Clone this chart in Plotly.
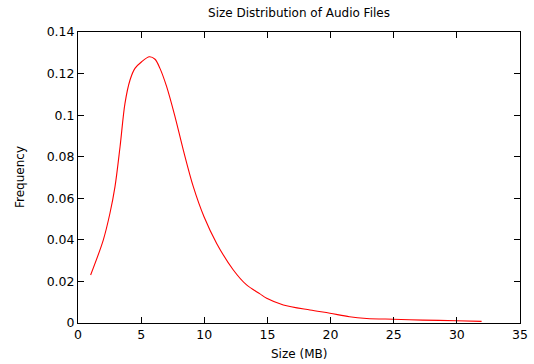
import plotly.graph_objects as go

size_mb = [1.0, 2.0, 2.53, 2.93, 3.33, 3.72, 4.12, 4.51, 5.04, 5.65, 6.10, 6.49, 7.02, 7.68,
           8.34, 9.13, 9.98, 10.98, 12.30, 13.35, 14.41, 14.94, 16.26, 18.37, 19.95, 21.5,
           22.86, 24.96, 27.3, 29.98, 31.96]
frequency = [0.0231, 0.0399, 0.0528, 0.0656, 0.0848, 0.1057, 0.1169, 0.1225, 0.1257, 0.1281,
             0.1269, 0.1225, 0.1137, 0.0993, 0.0832, 0.0656, 0.0511, 0.0383, 0.0255, 0.0183,
             0.0140, 0.0119, 0.0087, 0.00625, 0.0047, 0.0030, 0.0022, 0.0018, 0.0014, 0.0011,
             0.0008]
x_ticks = [0, 5, 10, 15, 20, 25, 30, 35]
y_ticks = [0, 0.02, 0.04, 0.06, 0.08, 0.1, 0.12, 0.14]
y_tick_labels = ["0", "0.02", "0.04", "0.06", "0.08", "0.1", "0.12", "0.14"]

FONT = "DejaVu Sans, Verdana, sans-serif"
L, R, T, B = 78, 14, 32, 41
W, H = 534, 364
PH = H - T - B
PW = W - L - R

fig = go.Figure()
fig.add_trace(go.Scatter(x=size_mb, y=frequency, mode="lines",
                         line=dict(color="#ff0000", width=1.1, shape="spline", smoothing=0.9),
                         showlegend=False, hoverinfo="skip"))

axis_common = dict(showline=True, linecolor="black", linewidth=1, mirror="ticks",
                   ticks="inside", ticklen=6, tickcolor="black", tickwidth=1,
                   showgrid=False, zeroline=False, automargin=False,
                   tickfont=dict(family=FONT, size=12.5, color="black"))

fig.update_layout(
    width=W, height=H,
    margin=dict(l=L, r=R, t=T, b=B),
    paper_bgcolor="white", plot_bgcolor="white",
    title=dict(text="Size Distribution of Audio Files", x=(L + W - R) / 2 / W, xanchor="center",
               y=1 - 13 / H, yanchor="middle",
               font=dict(family=FONT, size=12, color="black")),
    xaxis=dict(range=[0, 35], tickvals=x_ticks, **axis_common),
    yaxis=dict(range=[0, 0.14], tickvals=y_ticks, ticktext=y_tick_labels, **axis_common),
    annotations=[
        dict(text="Size (MB)", xref="paper", yref="paper", x=0.5, y=-(354 - (H - B)) / PH,
             xanchor="center", yanchor="middle", showarrow=False,
             font=dict(family=FONT, size=12, color="black")),
        dict(text="Frequency", xref="paper", yref="paper", x=-(L - 20) / PW,
             y=(H - B - 177) / PH, xanchor="center", yanchor="middle",
             textangle=-90, showarrow=False,
             font=dict(family=FONT, size=12, color="black")),
    ],
)

fig.write_html("out.html", config={"displayModeBar": False, "staticPlot": True},
               post_script="document.body.style.margin='0';document.body.style.overflow='hidden';")
